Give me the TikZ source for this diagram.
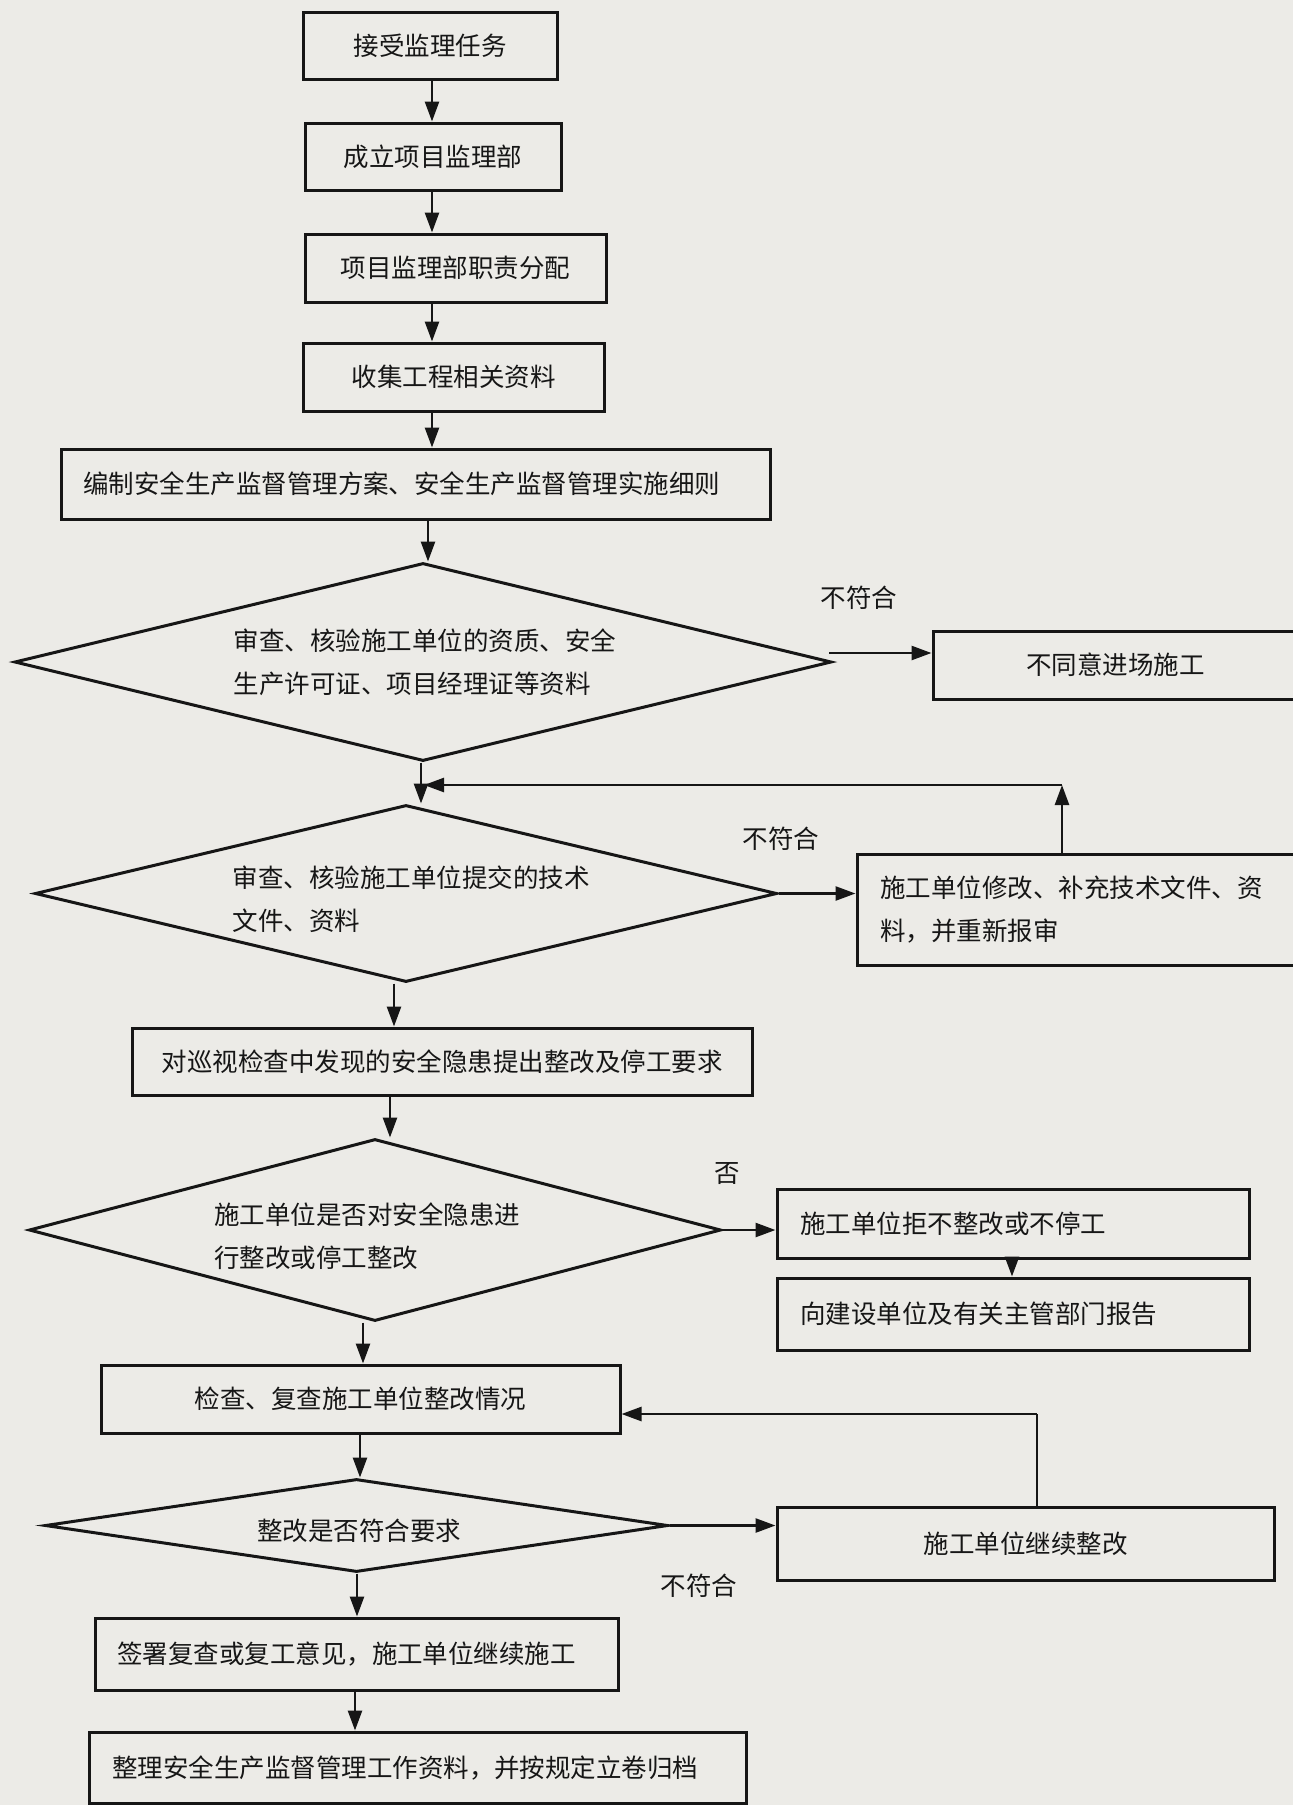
\documentclass[tikz,border=0pt]{standalone}
\usepackage{fontspec}
\newfontfamily\cjk{Noto Sans CJK SC}
\usetikzlibrary{shapes.geometric,arrows.meta}
\definecolor{ink}{RGB}{22,22,22}
\definecolor{paper}{RGB}{236,235,231}
\begin{document}
\begin{tikzpicture}[x=1pt,y=-1pt,
  every node/.style={font=\cjk\fontsize{25.5}{43}\selectfont, text=ink},
  box/.style={draw=ink, line width=3pt, inner xsep=0pt, inner ysep=0pt},
  lbox/.style={box, align=left},
  dia/.style={draw=ink, line width=3pt, diamond, inner sep=0pt},
  arr/.style={draw=ink, line width=2.6pt, -{Triangle[length=20pt,width=14pt]}},
  ln/.style={draw=ink, line width=2.6pt},
  lab/.style={inner sep=0pt}]
\useasboundingbox (0,0) rectangle (1293,1805);
\fill[paper] (0,0) rectangle (1293,1805);
\clip (0,0) rectangle (1293,1805);

% axis coordinates
\coordinate (a1) at (432,0);
\coordinate (a2) at (428,0);
\coordinate (a3) at (421,0);
\coordinate (a4) at (394,0);
\coordinate (a5) at (390,0);
\coordinate (a6) at (363,0);
\coordinate (a7) at (360,0);
\coordinate (a8) at (1012,0);
\coordinate (a9) at (357,0);
\coordinate (a10) at (355,0);
\coordinate (f1) at (1062,0);
\coordinate (m1) at (424,785);
\coordinate (f2) at (1037,0);
\coordinate (m2) at (0,1414);

% boxes
\node[box, minimum width=254, minimum height=67] (b1) at (430,45.5) {接受监理任务};
\node[box, minimum width=256, minimum height=67] (b2) at (433,156.5) {成立项目监理部};
\node[box, minimum width=301, minimum height=68] (b3) at (455.5,268) {项目监理部职责分配};
\node[box, minimum width=301, minimum height=68] (b4) at (453.5,377) {收集工程相关资料};
\node[lbox, inner xsep=22pt, text width=665pt, minimum height=70] (b5) at (415.5,484) {编制安全生产监督管理方案、安全生产监督管理实施细则};

% decision 1
\node[dia, minimum width=817, minimum height=198] (d1) at (423,662) {};
\node[align=left, inner sep=0pt] (t1) at (425,662) {审查、核验施工单位的资质、安全\\生产许可证、项目经理证等资料};
\node[box, minimum width=365, minimum height=68] (bx1) at (1115.5,665) {不同意进场施工};
\node[lab] (l1) at (859,598) {不符合};

% decision 2
\node[dia, minimum width=742, minimum height=177] (d2) at (406,893.5) {};
\node[align=left, inner sep=0pt] (t2) at (411,899) {审查、核验施工单位提交的技术\\文件、资料};
\node[lbox, inner xsep=23pt, text width=397pt, minimum height=111] (bx2) at (1078.5,909.5) {施工单位修改、补充技术文件、资\\料，并重新报审};
\node[lab] (l2) at (781,839) {不符合};

\node[box, minimum width=620, minimum height=67] (b6) at (442,1061.5) {对巡视检查中发现的安全隐患提出整改及停工要求};

% decision 3
\node[dia, minimum width=692, minimum height=182] (d3) at (375,1230) {};
\node[align=left, inner sep=0pt] (t3) at (367,1236) {施工单位是否对安全隐患进\\行整改或停工整改};
\node[lbox, inner xsep=23pt, text width=426pt, minimum height=69] (bx3) at (1013,1223.5) {施工单位拒不整改或不停工};
\node[lbox, inner xsep=23pt, text width=426pt, minimum height=72] (bx4) at (1013,1314) {向建设单位及有关主管部门报告};
\node[lab] (l3) at (727,1174) {否};

\node[box, minimum width=519, minimum height=68] (b7) at (360.5,1399) {检查、复查施工单位整改情况};

% decision 4
\node[dia, minimum width=623, minimum height=93] (d4) at (356.5,1525.5) {};
\node[inner sep=0pt] (t4) at (359,1531) {整改是否符合要求};
\node[box, minimum width=497, minimum height=73] (bx5) at (1025.5,1543.5) {施工单位继续整改};
\node[lab] (l4) at (699,1586) {不符合};

\node[lbox, inner xsep=22pt, text width=479pt, minimum height=72] (b8) at (356.5,1654) {签署复查或复工意见，施工单位继续施工};
\node[lbox, inner xsep=23pt, text width=611pt, minimum height=71] (b9) at (417.5,1767.5) {整理安全生产监督管理工作资料，并按规定立卷归档};

% main flow
\draw[arr] (b1.south -| a1) -- (b2.north -| a1);
\draw[arr] (b2.south -| a1) -- (b3.north -| a1);
\draw[arr] (b3.south -| a1) -- (b4.north -| a1);
\draw[arr] (b4.south -| a1) -- (b5.north -| a1);
\draw[arr] (b5.south -| a2) -- (d1.north -| a2);
\draw[arr] (d1.south -| a3) -- (d2.north -| a3);
\draw[arr] (d2.south -| a4) -- (b6.north -| a4);
\draw[arr] (b6.south -| a5) -- (d3.north -| a5);
\draw[arr] (d3.south -| a6) -- (b7.north -| a6);
\draw[arr] (b7.south -| a7) -- (d4.north -| a7);
\draw[arr] (d4.south -| a9) -- (b8.north -| a9);
\draw[arr] (b8.south -| a10) -- (b9.north -| a10);

% side branches
\draw[arr] ([xshift=-4pt,yshift=9pt]d1.east) -- ([yshift=12pt]bx1.west);
\draw[arr] (d2.east) -- (d2.east -| bx2.west);
\draw[arr] (bx2.north -| f1) -- (m1 -| f1);
\draw[arr] (m1 -| f1) -- (m1);
\draw[arr] (d3.east) -- (d3.east -| bx3.west);
\draw[arr] (bx3.south -| a8) -- (bx4.north -| a8);
\draw[arr] (d4.east) -- (d4.east -| bx5.west);
\draw[ln] (bx5.north -| f2) -- (f2 |- m2);
\draw[arr] (f2 |- m2) -- (b7.east |- m2);
\end{tikzpicture}
\end{document}
